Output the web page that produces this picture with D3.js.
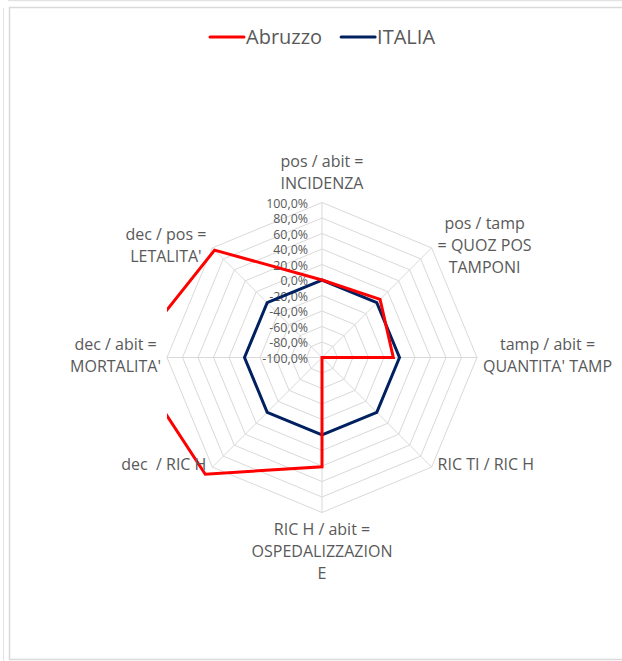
<!DOCTYPE html>
<html>
<head>
<meta charset="utf-8">
<script src="https://cdn.jsdelivr.net/npm/d3@7"></script>
<style>
  body { margin: 0; background: #fff; }
  text { font-family: "Open Sans", "Noto Sans", sans-serif; fill: #595959; white-space: pre; }
</style>
</head>
<body>
<div id="chart"></div>
<script>
// axis labels, clockwise from the top (one entry per text line)
var categories = [
  ["pos / abit =", "INCIDENZA"],
  ["pos / tamp", "= QUOZ POS", "TAMPONI"],
  ["tamp / abit =", "QUANTITA' TAMP"],
  ["RIC TI / RIC H"],
  ["RIC H / abit =", "OSPEDALIZZAZION", "E"],
  ["dec  / RIC H"],
  ["dec / abit =", "MORTALITA'"],
  ["dec / pos =", "LETALITA'"]
];
var seriesNames = ["Abruzzo", "ITALIA"];
var abruzzo = [0, 6, -8, -100, 41, 113, 149, 96];
var italia = [0, 0, 0, 0, 0, 0, 0, 0];
var tickValues = [-100, -80, -60, -40, -20, 0, 20, 40, 60, 80, 100];
var colors = ["#ff0000", "#002060"];

var width = 622, height = 661;
var cx = 322, cy = 357.5, R = 155;
var gridColor = "#d9d9d9";

var svg = d3.select("#chart").append("svg")
    .attr("width", width)
    .attr("height", height);

// frame lines of the screenshot
svg.append("line").attr("x1", 3.5).attr("y1", 8).attr("x2", 3.5).attr("y2", height)
    .attr("stroke", "#e3e3e3").attr("stroke-width", 1);
svg.append("line").attr("x1", 8).attr("y1", 0.5).attr("x2", width).attr("y2", 0.5)
    .attr("stroke", "#e3e3e3").attr("stroke-width", 1.5);
svg.append("rect").attr("x", 9.5).attr("y", 7.5).attr("width", 700).attr("height", 652)
    .attr("fill", "none").attr("stroke", "#d9d9d9").attr("stroke-width", 1.5);

var r = d3.scaleLinear().domain([-100, 100]).range([0, R]);
var n = categories.length;
var angle = function (i) { return i * 2 * Math.PI / n; };

var g = svg.append("g").attr("transform", "translate(" + cx + "," + cy + ")");

// rings
var ring = d3.lineRadial()
    .angle(function (d, i) { return angle(i); })
    .radius(function (d) { return r(d); })
    .curve(d3.curveLinearClosed);

g.selectAll(".ring")
    .data(tickValues.filter(function (v) { return v > -100; }))
    .enter().append("path")
    .attr("class", "ring")
    .attr("d", function (v) { return ring(d3.range(n).map(function () { return v; })); })
    .attr("fill", "none")
    .attr("stroke", gridColor)
    .attr("stroke-width", 1);

// spokes
g.selectAll(".spoke")
    .data(d3.range(n))
    .enter().append("line")
    .attr("class", "spoke")
    .attr("x1", 0).attr("y1", 0)
    .attr("x2", function (i) { return r(100) * Math.sin(angle(i)); })
    .attr("y2", function (i) { return -r(100) * Math.cos(angle(i)); })
    .attr("stroke", gridColor)
    .attr("stroke-width", 1);

// tick labels along the vertical axis
var fmt = function (v) { return d3.format(".1f")(v).replace(".", ",").replace("−", "-") + "%"; };
g.selectAll(".tick")
    .data(tickValues)
    .enter().append("text")
    .attr("class", "tick")
    .attr("x", -14)
    .attr("y", function (v) { return -r(v) + 2; })
    .attr("text-anchor", "end")
    .attr("dominant-baseline", "middle")
    .style("font-size", "12.4px")
    .text(fmt);

// series, clipped to the plot area
svg.append("clipPath").attr("id", "plotClip")
    .append("rect")
    .attr("x", -R).attr("y", -R).attr("width", 2 * R).attr("height", 2 * R);

var plot = g.append("g").attr("clip-path", "url(#plotClip)");
[italia, abruzzo].forEach(function (vals, k) {
    var color = k === 0 ? colors[1] : colors[0];
    plot.append("path")
        .attr("d", ring(vals))
        .attr("fill", "none")
        .attr("stroke", color)
        .attr("stroke-width", 3)
        .attr("stroke-linejoin", "miter");
});

// category labels
var lineH = 22;
categories.forEach(function (lines, i) {
    var a = angle(i);
    var vx = r(100) * Math.sin(a), vy = -r(100) * Math.cos(a);
    var t = g.append("text").style("font-size", "16px").attr("text-anchor", "middle");
    lines.forEach(function (s, j) {
        t.append("tspan").attr("x", 0).attr("dy", j === 0 ? 0 : lineH).text(s);
    });
    var w = d3.max(t.selectAll("tspan").nodes(), function (nd) { return nd.getComputedTextLength(); });
    var h = lines.length * lineH;
    var bx, by;
    if (Math.abs(vx) > 1) {
        bx = vx + Math.sign(vx) * (w / 2 + 6);
        by = vy - 1;
    } else {
        bx = vx;
        by = vy + Math.sign(vy) * (h / 2 + 7);
    }
    var firstY = by - h / 2 + lineH / 2;
    t.attr("transform", "translate(" + bx + "," + firstY + ")")
        .attr("dominant-baseline", "middle");
    t.selectAll("tspan").attr("dominant-baseline", "middle");
});

// legend
var legend = svg.append("g");
var lx = 210;
seriesNames.forEach(function (name, k) {
    legend.append("line")
        .attr("x1", lx).attr("x2", lx + 34)
        .attr("y1", 37).attr("y2", 37)
        .attr("stroke", colors[k]).attr("stroke-width", 3)
        .attr("stroke-linecap", "round");
    var t = legend.append("text")
        .attr("x", lx + 36).attr("y", 44)
        .style("font-size", "20px")
        .text(name);
    lx += 36 + t.node().getComputedTextLength() + 19;
});
</script>
</body>
</html>
